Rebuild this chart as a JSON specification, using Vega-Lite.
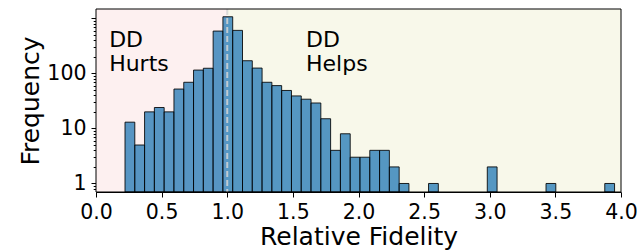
{
  "$schema": "https://vega.github.io/schema/vega-lite/v6.json",
  "autosize": {"type": "none"},
  "padding": {"left": 96, "top": 9, "right": 16, "bottom": 58},
  "width": 525,
  "height": 183,
  "background": "white",
  "config": {
    "view": {"stroke": null},
    "font": "DejaVu Sans",
    "axis": {
      "labelFont": "DejaVu Sans",
      "labelFontSize": 20.5,
      "labelColor": "black",
      "titleFont": "DejaVu Sans",
      "titleFontSize": 25,
      "titleFontWeight": "normal",
      "titleColor": "black",
      "tickColor": "black",
      "domainColor": "black",
      "grid": false,
      "tickSize": 5,
      "labelPadding": 5
    }
  },
  "datasets": {
    "hist": [
      {"bin_start": 0.221, "bin_end": 0.2956, "count": 13},
      {"bin_start": 0.2956, "bin_end": 0.3702, "count": 5},
      {"bin_start": 0.3702, "bin_end": 0.4448, "count": 20},
      {"bin_start": 0.4448, "bin_end": 0.5194, "count": 24},
      {"bin_start": 0.5194, "bin_end": 0.594, "count": 20},
      {"bin_start": 0.594, "bin_end": 0.6686, "count": 52},
      {"bin_start": 0.6686, "bin_end": 0.7432, "count": 69},
      {"bin_start": 0.7432, "bin_end": 0.8178, "count": 115},
      {"bin_start": 0.8178, "bin_end": 0.8924, "count": 124},
      {"bin_start": 0.8924, "bin_end": 0.967, "count": 588},
      {"bin_start": 0.967, "bin_end": 1.0416, "count": 1070},
      {"bin_start": 1.0416, "bin_end": 1.1162, "count": 605},
      {"bin_start": 1.1162, "bin_end": 1.1908, "count": 170},
      {"bin_start": 1.1908, "bin_end": 1.2654, "count": 125},
      {"bin_start": 1.2654, "bin_end": 1.34, "count": 69},
      {"bin_start": 1.34, "bin_end": 1.4146, "count": 60},
      {"bin_start": 1.4146, "bin_end": 1.4892, "count": 49},
      {"bin_start": 1.4892, "bin_end": 1.5638, "count": 39},
      {"bin_start": 1.5638, "bin_end": 1.6384, "count": 34},
      {"bin_start": 1.6384, "bin_end": 1.713, "count": 29},
      {"bin_start": 1.713, "bin_end": 1.7876, "count": 15},
      {"bin_start": 1.7876, "bin_end": 1.8622, "count": 4},
      {"bin_start": 1.8622, "bin_end": 1.9368, "count": 8},
      {"bin_start": 1.9368, "bin_end": 2.0114, "count": 3},
      {"bin_start": 2.0114, "bin_end": 2.086, "count": 3},
      {"bin_start": 2.086, "bin_end": 2.1606, "count": 4},
      {"bin_start": 2.1606, "bin_end": 2.2352, "count": 4},
      {"bin_start": 2.2352, "bin_end": 2.3098, "count": 2},
      {"bin_start": 2.3098, "bin_end": 2.3844, "count": 1},
      {"bin_start": 2.5336, "bin_end": 2.6082, "count": 1},
      {"bin_start": 2.9812, "bin_end": 3.0558, "count": 2},
      {"bin_start": 3.4288, "bin_end": 3.5034, "count": 1},
      {"bin_start": 3.8764, "bin_end": 3.951, "count": 1}
    ],
    "regions": [
      {"start": 0, "end": 1, "region": "hurts"},
      {"start": 1, "end": 4, "region": "helps"}
    ],
    "notes": [
      {"x": 0.1, "y": 302, "text": ["DD", "Hurts"]},
      {"x": 1.6, "y": 302, "text": ["DD", "Helps"]}
    ],
    "single": [{}]
  },
  "layer": [
    {
      "data": {"name": "regions"},
      "mark": {"type": "rect"},
      "encoding": {
        "x": {"field": "start", "type": "quantitative", "scale": {"domain": [0, 4], "nice": false, "zero": false},
          "axis": {"title": "Relative Fidelity", "values": [0, 0.5, 1, 1.5, 2, 2.5, 3, 3.5, 4], "format": ".1f", "titlePadding": 2, "labelFlush": false, "labelOverlap": false}},
        "x2": {"field": "end"},
        "color": {"field": "region", "type": "nominal", "scale": {"domain": ["hurts", "helps"], "range": ["#fdf0f0", "#f8f8ea"]}, "legend": null}
      }
    },
    {
      "data": {"name": "hist"},
      "mark": {"type": "rect", "fill": "#1f77b4", "fillOpacity": 0.75, "stroke": "black", "strokeOpacity": 0.85, "strokeWidth": 1, "clip": true},
      "encoding": {
        "x": {"field": "bin_start", "type": "quantitative"},
        "x2": {"field": "bin_end"},
        "y": {"field": "count", "type": "quantitative",
          "scale": {"type": "log", "domain": [0.7, 1480], "nice": false},
          "axis": {"title": "Frequency", "titlePadding": 3,
            "values": [0.8, 0.9, 1, 2, 3, 4, 5, 6, 7, 8, 9, 10, 20, 30, 40, 50, 60, 70, 80, 90, 100, 200, 300, 400, 500, 600, 700, 800, 900, 1000],
            "labelExpr": "(datum.value === 1 || datum.value === 10 || datum.value === 100) ? format(datum.value, 'd') : ''",
            "labelOverlap": false,
            "tickSize": {"condition": {"test": "datum.value === 1 || datum.value === 10 || datum.value === 100 || datum.value === 1000", "value": 5}, "value": 2.8}}},
        "y2": {"datum": 0.7}
      }
    },
    {
      "data": {"name": "single"},
      "mark": {"type": "rule", "stroke": "#d3d3d3", "strokeOpacity": 0.85, "strokeWidth": 2, "strokeDash": [6, 3]},
      "encoding": {"x": {"datum": 1.0}}
    },
    {
      "data": {"name": "notes"},
      "mark": {"type": "text", "align": "left", "baseline": "alphabetic", "fontSize": 22, "lineHeight": 24, "font": "DejaVu Sans", "color": "black"},
      "encoding": {
        "x": {"field": "x", "type": "quantitative"},
        "y": {"field": "y", "type": "quantitative"},
        "text": {"field": "text"}
      }
    },
    {
      "data": {"name": "single"},
      "mark": {"type": "rect", "fill": null, "stroke": "black", "strokeWidth": 1},
      "encoding": {"x": {"datum": 0}, "x2": {"datum": 4}}
    }
  ]
}
